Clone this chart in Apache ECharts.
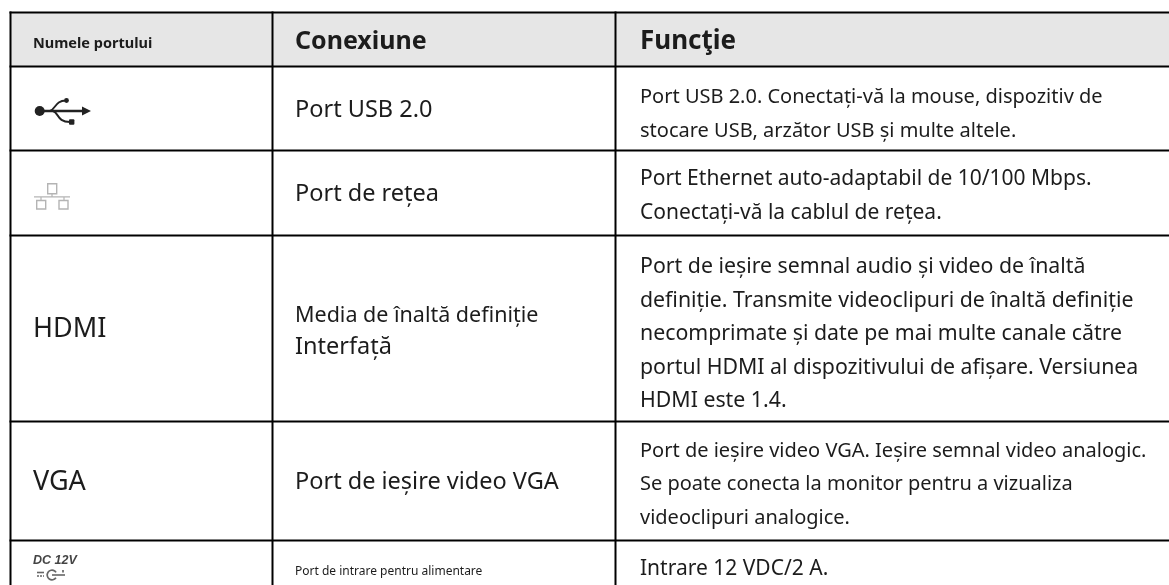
<!DOCTYPE html>
<html><head><meta charset="utf-8">
<style>html,body{margin:0;padding:0;background:#fff}#c{width:1169px;height:585px}</style>
<script src="https://cdn.jsdelivr.net/npm/echarts@6/dist/echarts.min.js"></script>
</head><body><div id="c"></div>
<script>
// table content
const headers = ["Numele portului", "Conexiune", "Funcţie"];
const portNames = ["", "", "HDMI", "VGA", ""];
const connections = [
  ["Port USB 2.0"],
  ["Port de rețea"],
  ["Media de înaltă definiție", "Interfață"],
  ["Port de ieșire video VGA"],
  ["Port de intrare pentru alimentare"]
];
const functions = [
  ["Port USB 2.0. Conectați-vă la mouse, dispozitiv de", "stocare USB, arzător USB și multe altele."],
  ["Port Ethernet auto-adaptabil de 10/100 Mbps.", "Conectați-vă la cablul de rețea."],
  ["Port de ieșire semnal audio și video de înaltă", "definiție. Transmite videoclipuri de înaltă definiție", "necomprimate și date pe mai multe canale către", "portul HDMI al dispozitivului de afișare. Versiunea", "HDMI este 1.4."],
  ["Port de ieșire video VGA. Ieșire semnal video analogic.", "Se poate conecta la monitor pentru a vizualiza", "videoclipuri analogice."],
  ["Intrare 12 VDC/2 A."]
];
const dcLabel = "DC 12V";

// table layout, on pixel-sized value axes
const colEdges = [10.5, 272.5, 615.5, 1169];
const rowEdges = [12.5, 66.5, 150.5, 235.5, 421.5, 540.5, 585];
const textX = [33, 295, 640];
const headerSizes = [14.5, 25, 26];
const headerY = [44, 41.5, 41.5];
const connSizes = [[23.5], [23.5], [21.5, 23.5], [23.5], [12]];
const funcSizes = [20, 21, 21.3, 20, 21];
const funcLineGap = [34, 34, 33.5, 33.5, 33];
const funcCenterY = [114, 196, 334, 484.5, 569];
const connCenterY = [110.5, 194.5, 331.5, 482, 572];
const portSizes = [0, 0, 27, 27, 0];
const portCenterY = [0, 0, 329, 482, 0];

const FONT = '"Noto Sans","Open Sans",sans-serif';
const INK = '#1c1c1c';

const chart = echarts.init(document.getElementById('c'), null, {renderer: 'canvas'});

const hLines = rowEdges.slice(0, -1).map(y => ({kind: 'h', y}));
const vLines = colEdges.slice(0, -1).map(x => ({kind: 'v', x}));
const rules = hLines.concat(vLines);
const texts = [];
headers.forEach((t, c) => texts.push({t, x: textX[c], y: headerY[c], s: headerSizes[c], w: 'bold'}));
portNames.forEach((t, r) => { if (t) texts.push({t, x: textX[0], y: portCenterY[r], s: portSizes[r], w: 'normal'}); });
connections.forEach((ls, r) => ls.forEach((t, i) => texts.push({t, x: textX[1], y: connCenterY[r] + (i - (ls.length - 1) / 2) * 32, s: connSizes[r][i], w: 'normal'})));
functions.forEach((ls, r) => ls.forEach((t, i) => texts.push({t, x: textX[2], y: funcCenterY[r] + (i - (ls.length - 1) / 2) * funcLineGap[r], s: funcSizes[r], w: 'normal'})));

function seriesOf(data, renderItem, z) {
  return {type: 'custom', coordinateSystem: 'cartesian2d', clip: false, silent: true, z, encode: {x: 0, y: 1},
          data: data.map((d, i) => [i, i]), renderItem};
}

function usbIcon(api) {
  const P = (x, y) => api.coord([x, y]);
  const c = '#222';
  const curve = (p0, p1, p2, p3) => {
    const a = P(p0[0], p0[1]), b = P(p1[0], p1[1]), d = P(p2[0], p2[1]), e = P(p3[0], p3[1]);
    return {type: 'bezierCurve', shape: {x1: a[0], y1: a[1], cpx1: b[0], cpy1: b[1], cpx2: d[0], cpy2: d[1], x2: e[0], y2: e[1]}, style: {stroke: c, lineWidth: 1.9, fill: null}};
  };
  return {type: 'group', children: [
    {type: 'circle', shape: {cx: P(39.7, 0)[0], cy: P(0, 111)[1], r: 5}, style: {fill: c}},
    {type: 'line', shape: {x1: P(40, 0)[0], y1: P(0, 111)[1], x2: P(85, 0)[0], y2: P(0, 111)[1]}, style: {stroke: c, lineWidth: 2.4}},
    {type: 'polygon', shape: {points: [P(91, 111), P(82, 106.5), P(82, 115.5)]}, style: {fill: c}},
    curve([50, 111], [56, 109], [55, 100.5], [66, 100.5]),
    curve([53, 111], [59, 113], [57, 122], [70, 122]),
    {type: 'circle', shape: {cx: P(66.5, 0)[0], cy: P(0, 100.5)[1], r: 2.4}, style: {fill: c}},
    {type: 'rect', shape: {x: P(69, 0)[0], y: P(0, 119.3)[1], width: 5.4, height: 5.4, r: 1}, style: {fill: c}}
  ]};
}
function netIcon(api) {
  const P = (x, y) => api.coord([x, y]);
  const c = '#b4b4b4';
  const box = (x, y, w, h) => ({type: 'rect', shape: {x: P(x, 0)[0], y: P(0, y)[1], width: w, height: h}, style: {stroke: c, lineWidth: 1.4, fill: '#fff'}});
  const seg = (x1, y1, x2, y2) => ({type: 'line', shape: {x1: P(x1, 0)[0], y1: P(0, y1)[1], x2: P(x2, 0)[0], y2: P(0, y2)[1]}, style: {stroke: c, lineWidth: 1.2}});
  return {type: 'group', children: [
    box(47.7, 183.7, 9, 10), box(36.7, 200.5, 9, 8.5), box(59, 200.5, 9, 8.5),
    seg(34, 196.8, 70, 196.8), seg(52, 194, 52, 197), seg(41, 197, 41, 200), seg(64, 197, 64, 200)
  ]};
}
function dcIcon(api) {
  const P = (x, y) => api.coord([x, y]);
  const c = '#666';
  const seg = (x1, y1, x2, y2, w, d) => ({type: 'line', shape: {x1: P(x1, 0)[0], y1: P(0, y1)[1], x2: P(x2, 0)[0], y2: P(0, y2)[1]}, style: {stroke: c, lineWidth: w, lineDash: d || null}});
  return {type: 'group', children: [
    {type: 'text', style: {text: dcLabel, x: P(33, 0)[0], y: P(0, 561)[1], font: 'italic bold 12.5px "Liberation Sans",Arial,sans-serif', fill: '#444', verticalAlign: 'middle'}},
    seg(37, 572.5, 44, 572.5, 1.6), seg(37, 576, 44, 576, 1.6, [2, 1]),
    {type: 'arc', shape: {cx: P(52, 0)[0], cy: P(0, 575)[1], r: 4.8, startAngle: 0.6, endAngle: 5.7, clockwise: true}, style: {stroke: c, lineWidth: 1.7, fill: null}},
    seg(52, 575, 65, 575, 1.6), seg(63, 570, 63, 572.5, 1.7)
  ]};
}
const icons = [usbIcon, netIcon, dcIcon];

chart.setOption({
  animation: false,
  backgroundColor: '#fff',
  grid: {left: 0, right: 0, top: 0, bottom: 0},
  xAxis: {type: 'value', min: 0, max: 1169, show: false},
  yAxis: {type: 'value', min: 0, max: 585, inverse: true, show: false},
  series: [
    seriesOf([0], (p, api) => {
      const a = api.coord([colEdges[0], rowEdges[0]]), b = api.coord([colEdges[3], rowEdges[1]]);
      return {type: 'rect', shape: {x: a[0], y: a[1], width: b[0] - a[0], height: b[1] - a[1]}, style: {fill: '#e6e6e6'}};
    }, 1),
    seriesOf(rules, (p, api) => {
      const d = rules[p.dataIndex];
      const a = d.kind === 'h' ? api.coord([colEdges[0] - 1, d.y]) : api.coord([d.x, rowEdges[0] - 1]);
      const b = d.kind === 'h' ? api.coord([colEdges[3], d.y]) : api.coord([d.x, rowEdges[6]]);
      return {type: 'line', shape: {x1: a[0], y1: a[1], x2: b[0], y2: b[1]}, style: {stroke: '#000', lineWidth: 2}};
    }, 2),
    seriesOf(texts, (p, api) => {
      const d = texts[p.dataIndex];
      const a = api.coord([d.x, d.y]);
      return {type: 'text', style: {text: d.t, x: a[0], y: a[1], fill: INK, font: d.w + ' ' + d.s + 'px ' + FONT, verticalAlign: 'middle', align: 'left'}};
    }, 3),
    seriesOf(icons, (p, api) => icons[p.dataIndex](api), 3)
  ]
});
</script></body></html>
